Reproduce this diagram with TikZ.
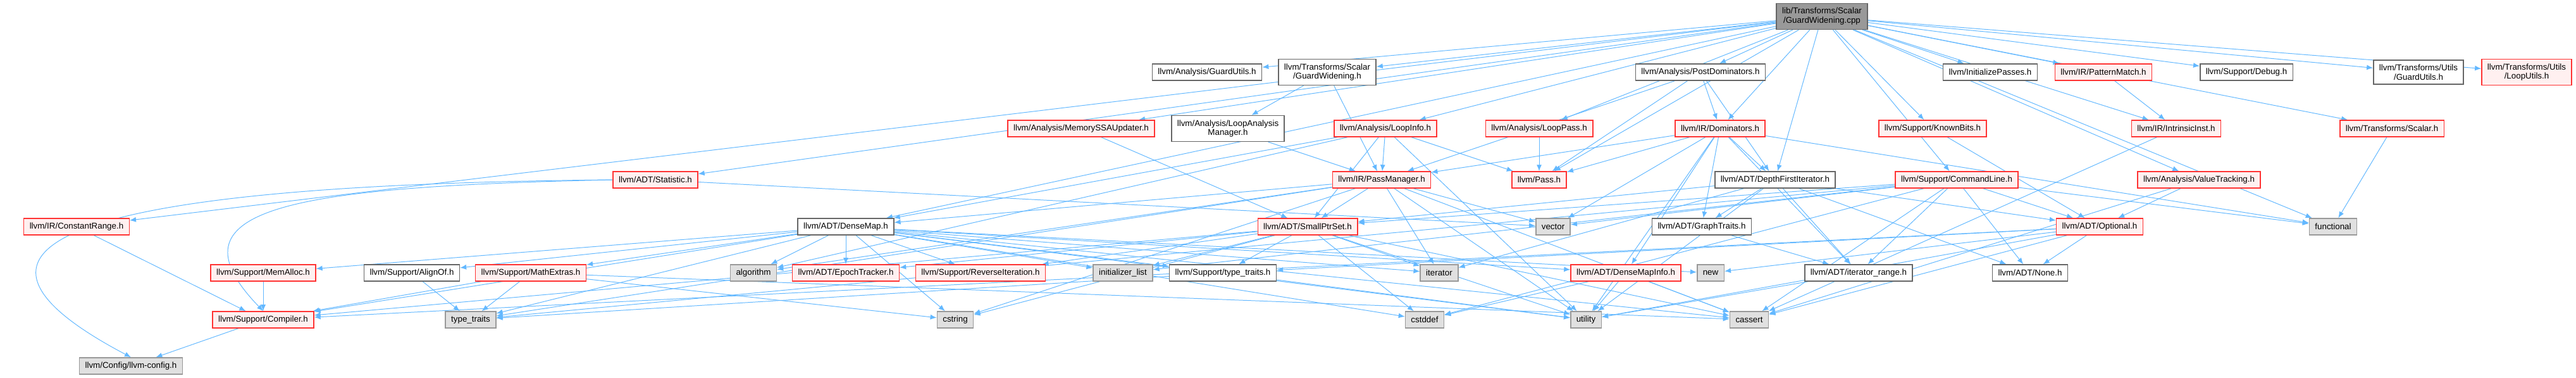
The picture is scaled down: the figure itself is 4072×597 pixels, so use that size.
\documentclass[tikz,border=0pt]{standalone}
\usepackage{fontspec}
\setmainfont{Liberation Sans}
\usetikzlibrary{arrows.meta,backgrounds}

\definecolor{edgeblue}{HTML}{63B8FF}
\definecolor{redline}{HTML}{FF3333}
\definecolor{redfill}{HTML}{FFF0F0}
\definecolor{sysfill}{HTML}{E0E0E0}
\definecolor{sysline}{HTML}{999999}
\definecolor{userline}{HTML}{666666}
\definecolor{rootfill}{HTML}{999999}

\begin{document}
\begin{tikzpicture}[x=0.025cm, y=-0.025cm,
    font=\fontsize{9.5}{10.6}\selectfont,
    hdr/.style={draw=userline, fill=white, line width=1.05pt, minimum height=0.65cm,
                inner xsep=0.225cm, inner ysep=0.17cm, align=center},
    redhdr/.style={hdr, draw=redline, fill=redfill},
    syshdr/.style={hdr, draw=sysline, fill=sysfill},
    roothdr/.style={hdr, fill=rootfill},
    dep/.style={draw=edgeblue, line width=0.7pt, -{Latex[length=0.25cm,width=0.2cm]}}]
    \useasboundingbox (0,0) rectangle (4072,597);

    % level 0
    \node[roothdr] (root) at (2880,26) {lib/Transforms/Scalar\\/GuardWidening.cpp};

    % level 1
    \node[hdr] (aguard) at (1908,114) {llvm/Analysis/GuardUtils.h};
    \node[hdr] (gwh) at (2098,114) {llvm/Transforms/Scalar\\/GuardWidening.h};
    \node[hdr] (postdom) at (2688,114) {llvm/Analysis/PostDominators.h};
    \node[hdr] (initp) at (3146,114) {llvm/InitializePasses.h};
    \node[redhdr] (pmatch) at (3325,114) {llvm/IR/PatternMatch.h};
    \node[hdr] (debug) at (3551,114) {llvm/Support/Debug.h};
    \node[hdr] (uguard) at (3823,114) {llvm/Transforms/Utils\\/GuardUtils.h};
    \node[redhdr] (loopu) at (3994,114) {llvm/Transforms/Utils\\/LoopUtils.h};

    % level 2
    \node[redhdr] (mssau) at (1709,203) {llvm/Analysis/MemorySSAUpdater.h};
    \node[hdr] (lam) at (1941,203) {llvm/Analysis/LoopAnalysis\\Manager.h};
    \node[redhdr] (loopinfo) at (2190,203) {llvm/Analysis/LoopInfo.h};
    \node[redhdr] (looppass) at (2433,203) {llvm/Analysis/LoopPass.h};
    \node[redhdr] (dom) at (2719,203) {llvm/IR/Dominators.h};
    \node[redhdr] (knownbits) at (3055,203) {llvm/Support/KnownBits.h};
    \node[redhdr] (intrin) at (3440,203) {llvm/IR/IntrinsicInst.h};
    \node[redhdr] (scalar) at (3781,203) {llvm/Transforms/Scalar.h};

    % level 3
    \node[redhdr] (statistic) at (1036,284) {llvm/ADT/Statistic.h};
    \node[redhdr] (passmgr) at (2184,284) {llvm/IR/PassManager.h};
    \node[redhdr] (pass) at (2433,284) {llvm/Pass.h};
    \node[hdr] (dfi) at (2806,284) {llvm/ADT/DepthFirstIterator.h};
    \node[redhdr] (cl) at (3093,284) {llvm/Support/CommandLine.h};
    \node[redhdr] (vt) at (3476,284) {llvm/Analysis/ValueTracking.h};

    % level 4
    \node[redhdr] (crange) at (121,358) {llvm/IR/ConstantRange.h};
    \node[hdr] (densemap) at (1337,358) {llvm/ADT/DenseMap.h};
    \node[redhdr] (smallptr) at (2067,358) {llvm/ADT/SmallPtrSet.h};
    \node[syshdr] (vector) at (2455,358) {vector};
    \node[hdr] (graphtraits) at (2690,358) {llvm/ADT/GraphTraits.h};
    \node[redhdr] (optional) at (3319,358) {llvm/ADT/Optional.h};
    \node[syshdr] (functional) at (3688,358) {functional};

    % level 5
    \node[redhdr] (memalloc) at (416,431) {llvm/Support/MemAlloc.h};
    \node[hdr] (alignof) at (651,431) {llvm/Support/AlignOf.h};
    \node[redhdr] (mathext) at (839,431) {llvm/Support/MathExtras.h};
    \node[syshdr] (algorithm) at (1191,431) {algorithm};
    \node[redhdr] (epoch) at (1337,431) {llvm/ADT/EpochTracker.h};
    \node[redhdr] (reviter) at (1550,431) {llvm/Support/ReverseIteration.h};
    \node[syshdr] (initlist) at (1775,431) {initializer\_list};
    \node[hdr] (stypetraits) at (1933,431) {llvm/Support/type\_traits.h};
    \node[syshdr] (iterator) at (2275,431) {iterator};
    \node[redhdr] (dmi) at (2570,431) {llvm/ADT/DenseMapInfo.h};
    \node[syshdr] (new) at (2704,431) {new};
    \node[hdr] (itrange) at (2938,431) {llvm/ADT/iterator\_range.h};
    \node[hdr] (none) at (3209,431) {llvm/ADT/None.h};

    % level 6
    \node[redhdr] (compiler) at (416,505) {llvm/Support/Compiler.h};
    \node[syshdr] (typetraits) at (744,505) {type\_traits};
    \node[syshdr] (cstring) at (1510,505) {cstring};
    \node[syshdr] (cstddef) at (2252,505) {cstddef};
    \node[syshdr] (utility) at (2507,505) {utility};
    \node[syshdr] (cassert) at (2765,505) {cassert};

    % level 7
    \node[syshdr] (config) at (207,578) {llvm/Config/llvm-config.h};

    % includes
    \begin{scope}[on background layer]
    \foreach \t in {aguard,gwh,postdom,initp,pmatch,debug,uguard,loopu,mssau,loopinfo,
                    looppass,dom,knownbits,intrin,scalar,statistic,pass,dfi,cl,vt,crange,
                    densemap,functional}
        \draw[dep] (root) -- (\t);
    \foreach \t in {lam,passmgr} \draw[dep] (gwh) -- (\t);
    \draw[dep] (lam) -- (passmgr);
    \draw[dep] (mssau) -- (smallptr);
    \foreach \t in {densemap,smallptr,passmgr,pass,algorithm,utility} \draw[dep] (loopinfo) -- (\t);
    \draw[dep] (looppass) -- (pass);
    \foreach \t in {dfi,dom,passmgr,pass} \draw[dep] (postdom) -- (\t);
    \foreach \t in {passmgr,pass,dfi,dmi,graphtraits,itrange,utility,vector,functional}
        \draw[dep] (dom) -- (\t);
    \draw[dep] (knownbits) -- (optional);
    \draw[dep] (pmatch) -- (intrin);
    \draw[dep] (intrin) -- (cassert);
    \draw[dep] (scalar) -- (functional);
    \foreach \t in {optional,cassert} \draw[dep] (vt) -- (\t);
    % Statistic.h bends round the left side
    \draw[dep] (statistic.west) .. controls (300,290) and (-200,350) .. (config.north);
    \draw[dep] (statistic.west) .. controls (450,295) and (260,330) .. (compiler.north);
    \draw[dep] (statistic) -- (vector);
    \foreach \t in {densemap,smallptr,algorithm,cassert,cstring,iterator,typetraits,utility,vector}
        \draw[dep] (passmgr) -- (\t);
    \foreach \t in {graphtraits,none,optional,smallptr,itrange,iterator,utility}
        \draw[dep] (dfi) -- (\t);
    \foreach \t in {none,optional,smallptr,itrange,cassert,cstddef,functional,initlist,typetraits,vector}
        \draw[dep] (cl) -- (\t);
    \draw[dep] (crange) -- (compiler);
    \foreach \t in {dmi,epoch,alignof,compiler,mathext,memalloc,reviter,stypetraits,algorithm,
                    cassert,cstddef,cstring,initlist,iterator,new,typetraits,utility}
        \draw[dep] (densemap) -- (\t);
    \foreach \t in {epoch,compiler,reviter,stypetraits,cassert,cstddef,cstring,initlist,iterator,utility}
        \draw[dep] (smallptr) -- (\t);
    \draw[dep] (graphtraits) -- (itrange);
    \foreach \t in {none,new,cassert,utility,compiler,stypetraits} \draw[dep] (optional) -- (\t);
    \foreach \t in {cassert,cstddef,utility} \draw[dep] (dmi) -- (\t);
    \draw[dep] (alignof) -- (typetraits);
    \foreach \t in {compiler,typetraits,cassert,cstring} \draw[dep] (mathext) -- (\t);
    \draw[dep] (memalloc) -- (compiler);
    \foreach \t in {typetraits,utility} \draw[dep] (stypetraits) -- (\t);
    \draw[dep] (itrange) -- (utility);
    \draw[dep] (compiler) -- (config);
    \end{scope}
\end{tikzpicture}
\end{document}
